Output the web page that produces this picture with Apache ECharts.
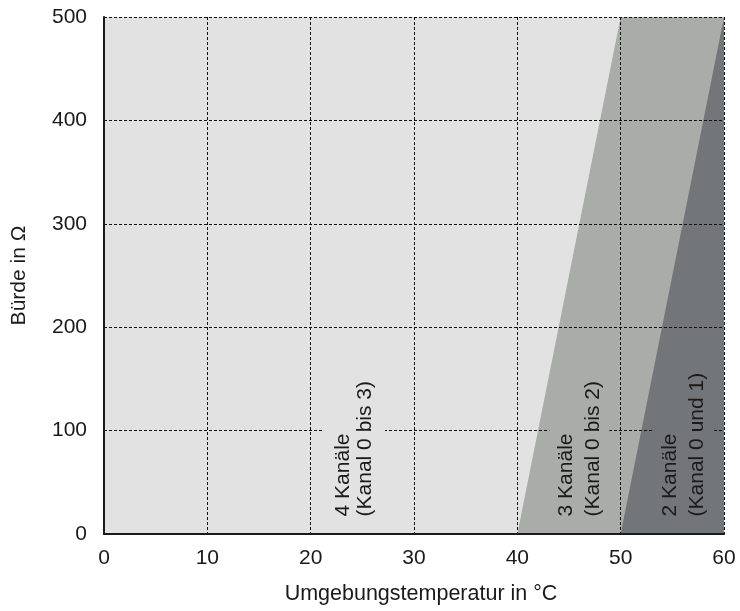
<!DOCTYPE html>
<html>
<head>
<meta charset="utf-8">
<script src="https://cdn.jsdelivr.net/npm/echarts@6/dist/echarts.min.js"></script>
<style>
html,body{margin:0;padding:0;background:#fff;}
#chart{width:740px;height:611px;}
</style>
</head>
<body>
<div id="chart"></div>
<script>
// ---- data ----
const xTicks = [0, 10, 20, 30, 40, 50, 60];
const yTicks = [0, 100, 200, 300, 400, 500];
// boundary of each operating region: [temperature °C, burden Ω]
const limit4 = [[0, 500], [60, 500]];
const limit3 = [[40, 0], [50, 500], [60, 500]];
const limit2 = [[50, 0], [60, 500]];
const regionLabels = ['4 Kanäle\n(Kanal 0 bis 3)', '3 Kanäle\n(Kanal 0 bis 2)', '2 Kanäle\n(Kanal 0 und 1)'];
const labelX = [24.2, 46.0, 56.1];
const labelY = [17, 17, 17];

// ---- styles ----
const FONT = "'Liberation Sans', Arial, Helvetica, sans-serif";
const FS = 21;
const colLight = '#e2e2e2', colMid = '#a9aca9', colDark = '#737679';
const labelBg = [colLight, colMid, colDark];
const labelLH = [22, 27, 27];
const labelPad = [[6, 0, 12, 0], [0, 0, 6, 0], [0, 0, 5, 0]];

const chart = echarts.init(document.getElementById('chart'), null, {renderer: 'canvas'});

function areaSeries(data, color) {
  return {
    type: 'line', data: data, showSymbol: false, symbol: 'none',
    lineStyle: {width: 0}, areaStyle: {color: color, opacity: 1},
    silent: true, z: 2, animation: false
  };
}

const gridLine = {show: true, showMinLine: false, lineStyle: {color: '#111', width: 1, type: [3, 2]}};

const option = {
  animation: false,
  backgroundColor: '#ffffff',
  grid: {left: 104, right: 16, top: 17, bottom: 77, containLabel: false, outerBoundsMode: 'none'},
  xAxis: {
    type: 'value', min: xTicks[0], max: xTicks[xTicks.length - 1], interval: 10,
    z: 10,
    name: 'Umgebungstemperatur in °C', nameLocation: 'middle', nameGap: 49,
    nameMoveOverlap: false,
    nameTextStyle: {fontFamily: FONT, fontSize: 21.5, color: '#1a1a1a', padding: [0, 0, 0, 14]},
    axisLine: {show: true, onZero: false, lineStyle: {color: '#1a1a1a', width: 2}},
    axisTick: {show: false},
    axisLabel: {fontFamily: FONT, fontSize: FS, color: '#1a1a1a', margin: 14},
    splitLine: gridLine
  },
  yAxis: {
    type: 'value', min: yTicks[0], max: yTicks[yTicks.length - 1], interval: 100,
    z: 10,
    name: 'Bürde in Ω', nameLocation: 'middle', nameGap: 74,
    nameMoveOverlap: false,
    nameTextStyle: {fontFamily: FONT, fontSize: FS, color: '#1a1a1a'},
    axisLine: {show: true, onZero: false, lineStyle: {color: '#1a1a1a', width: 2}},
    axisTick: {show: false},
    axisLabel: {fontFamily: FONT, fontSize: FS, color: '#1a1a1a', margin: 17},
    splitLine: gridLine
  },
  series: [
    areaSeries(limit4, colLight),
    areaSeries(limit3, colMid),
    areaSeries(limit2, colDark),
    {
      type: 'custom', z: 20, silent: true, animation: false,
      data: labelX.map((x, i) => [x, labelY[i]]),
      renderItem: function (params, api) {
        const i = params.dataIndex;
        const p = api.coord([api.value(0), api.value(1)]);
        return {
          type: 'text', x: p[0], y: p[1], rotation: Math.PI / 2,
          style: {
            text: regionLabels[i], fontFamily: FONT, fontSize: FS, fill: '#1a1a1a',
            align: 'left', verticalAlign: 'middle', lineHeight: labelLH[i],
            backgroundColor: labelBg[i], padding: labelPad[i]
          }
        };
      }
    }
  ]
};
chart.setOption(option);
</script>
</body>
</html>
